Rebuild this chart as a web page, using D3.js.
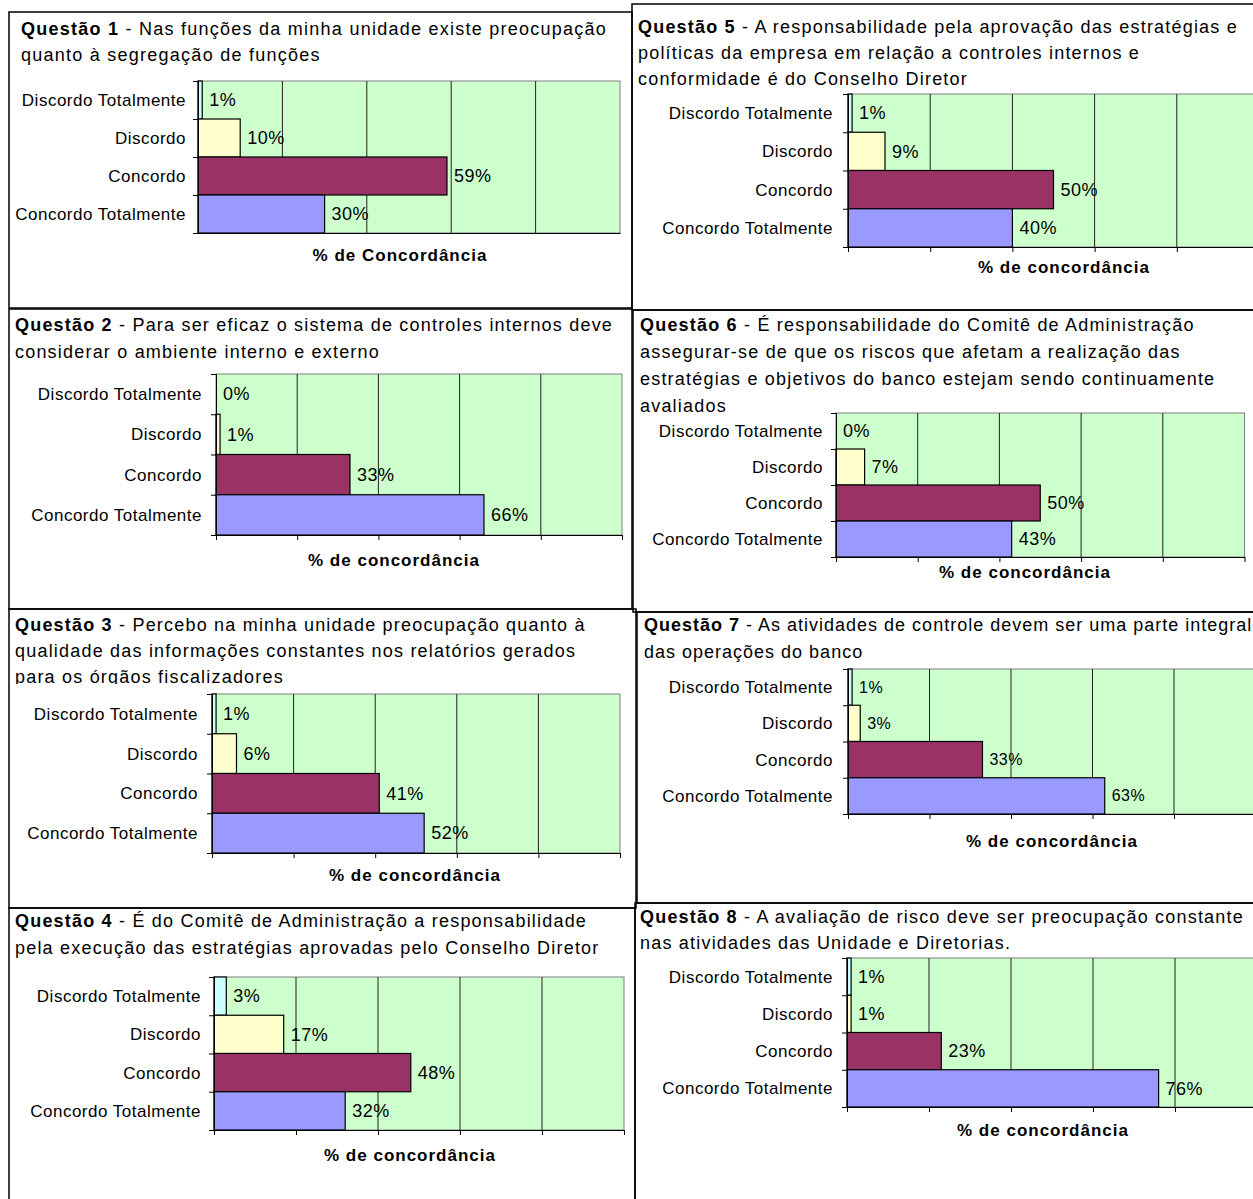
<!DOCTYPE html>
<html>
<head>
<meta charset="utf-8">
<script src="https://cdn.jsdelivr.net/npm/d3@7"></script>
<style>
body{margin:0;background:#fff;}
svg{display:block;font-family:Arial,'Liberation Sans',sans-serif;}
.ttl{font-size:18px;}
.cat{font-size:17px;letter-spacing:0.5px;}
.val{letter-spacing:0.5px;}
.axt{font-size:17px;font-weight:bold;letter-spacing:1px;}
</style>
</head>
<body>
<svg id="chart" width="1253" height="1199"></svg>
<script>
// categorias e valores (%)
var categories = ['Discordo Totalmente', 'Discordo', 'Concordo', 'Concordo Totalmente'];
var xTicks = [0, 20, 40, 60, 80, 100];
var colors = ['#CCFFFF', '#FFFFCC', '#993366', '#9999FF'];

var q1Values = [1, 10, 59, 30];
var q2Values = [0, 1, 33, 66];
var q3Values = [1, 6, 41, 52];
var q4Values = [3, 17, 48, 32];
var q5Values = [1, 9, 50, 40];
var q6Values = [0, 7, 50, 43];
var q7Values = [1, 3, 33, 63];
var q8Values = [1, 1, 23, 76];

var questionLabels = ['Questão 1', 'Questão 2', 'Questão 3', 'Questão 4', 'Questão 5', 'Questão 6', 'Questão 7', 'Questão 8'];
var questionTexts = [
	['Nas funções da minha unidade existe preocupação', 'quanto à segregação de funções'],
	['Para ser eficaz o sistema de controles internos deve', 'considerar o ambiente interno e externo'],
	['Percebo na minha unidade preocupação quanto à', 'qualidade das informações constantes nos relatórios gerados', 'para os órgãos fiscalizadores'],
	['É do Comitê de Administração a responsabilidade', 'pela execução das estratégias aprovadas pelo Conselho Diretor'],
	['A responsabilidade pela aprovação das estratégias e', 'políticas da empresa em relação a controles internos e', 'conformidade é do Conselho Diretor'],
	['É responsabilidade do Comitê de Administração', 'assegurar-se de que os riscos que afetam a realização das', 'estratégias e objetivos do banco estejam sendo continuamente', 'avaliados'],
	['As atividades de controle devem ser uma parte integral', 'das operações do banco'],
	['A avaliação de risco deve ser preocupação constante', 'nas atividades das Unidade e Diretorias.']
];
var axisTitles = ['% de Concordância', '% de concordância', '% de concordância', '% de concordância',
	'% de concordância', '% de concordância', '% de concordância', '% de concordância'];

var allValues = [q1Values, q2Values, q3Values, q4Values, q5Values, q6Values, q7Values, q8Values];

// posicao de cada quadro na pagina
var layout = [
	{cell:[9,12,623,296],  tx:21,  ty:35,  lh:26, ls:1.25, plot:[198,81,422,152], lx:186, ax:400,  ay:261,  vs:18, tk:0},
	{cell:[9,309,623,300], tx:15,  ty:331, lh:27, ls:1.2, plot:[216,374,406,161], lx:202, ax:394,  ay:566,  vs:18, tk:5},
	{cell:[9,609,627,299], tx:15,  ty:631, lh:26, ls:1.2, plot:[212,694,408,159], lx:198, ax:415,  ay:881,  vs:18, tk:5, clip:684},
	{cell:[9,908,626,296], tx:15,  ty:927, lh:27, ls:1.2, plot:[214,977,410,153], lx:201, ax:410,  ay:1161, vs:18, tk:5},
	{cell:[632,4,630,306], tx:638, ty:33,  lh:26, ls:1.2, plot:[848,94,411,153], lx:833, ax:1064, ay:273,  vs:18, tk:5},
	{cell:[633,310,630,302], tx:640, ty:331, lh:27, ls:1.2, plot:[836,413,408.5,144], lx:823, ax:1025, ay:578, vs:18, tk:5},
	{cell:[637,612,630,291], tx:644, ty:631, lh:27, ls:1.0, plot:[848,669,407.5,145], lx:833, ax:1052, ay:847, vs:16, tk:5},
	{cell:[635,903,630,300], tx:640, ty:923, lh:26, ls:1.2, plot:[847,958,410,149], lx:833, ax:1043, ay:1136, vs:18, tk:5}
];

var svg = d3.select('#chart');

layout.forEach(function(L, i){
	var g = svg.append('g');
	var rows = allValues[i].map(function(v, j){ return {cat: categories[j], v: v, color: colors[j]}; });
	var px = L.plot[0], py = L.plot[1], pw = L.plot[2], ph = L.plot[3];

	g.append('rect')
		.attr('x', L.cell[0]).attr('y', L.cell[1])
		.attr('width', L.cell[2]).attr('height', L.cell[3])
		.attr('fill', 'none').attr('stroke', '#000').attr('stroke-width', 1.5);

	//titulo
	var tg = g.append('g');
	if(L.clip){
		svg.append('clipPath').attr('id', 'clip' + i)
			.append('rect').attr('x', L.cell[0]).attr('y', L.cell[1]).attr('width', L.cell[2]).attr('height', L.clip - L.cell[1]);
		tg.attr('clip-path', 'url(#clip' + i + ')');
	}
	var t = tg.append('text').attr('class', 'ttl').attr('x', L.tx).attr('y', L.ty)
		.style('letter-spacing', L.ls + 'px');
	t.append('tspan').attr('font-weight', 'bold').text(questionLabels[i]);
	t.append('tspan').text(' - ' + questionTexts[i][0]);
	for(var k=1; k<questionTexts[i].length; k++){
		t.append('tspan').attr('x', L.tx).attr('dy', L.lh).text(questionTexts[i][k]);
	}

	var x = d3.scaleLinear().domain([0, 100]).range([px, px + pw]);
	var y = d3.scaleBand().domain(categories).range([py, py + ph]).padding(0);
	var yEdge = d3.scaleLinear().domain([0, categories.length]).range([py, py + ph]);

	g.append('rect')
		.attr('x', px).attr('y', py).attr('width', pw).attr('height', ph)
		.attr('fill', '#CCFFCC').attr('stroke', '#808080').attr('stroke-width', 1);

	g.selectAll('line.grid').data(xTicks.slice(1, -1)).enter().append('line')
		.attr('class', 'grid')
		.attr('x1', function(d){ return x(d); }).attr('x2', function(d){ return x(d); })
		.attr('y1', py).attr('y2', py + ph)
		.attr('stroke', '#222').attr('stroke-width', 1);

	g.selectAll('rect.bar').data(rows.filter(function(d){ return d.v > 0; })).enter().append('rect')
		.attr('class', 'bar')
		.attr('x', x(0))
		.attr('y', function(d){ return y(d.cat); })
		.attr('width', function(d){ return x(d.v) - x(0); })
		.attr('height', y.bandwidth())
		.attr('fill', function(d){ return d.color; })
		.attr('stroke', '#000').attr('stroke-width', 1.2);

	// eixos
	g.append('g').attr('transform', 'translate(' + px + ',0)')
		.call(d3.axisLeft(yEdge).tickValues(d3.range(categories.length + 1)).tickSize(5).tickFormat(''))
		.call(function(a){ a.selectAll('path,line').attr('stroke', '#000'); });
	g.append('g').attr('transform', 'translate(0,' + (py + ph) + ')')
		.call(d3.axisBottom(x).tickValues(xTicks).tickSize(L.tk).tickSizeOuter(0).tickFormat(''))
		.call(function(a){ a.selectAll('path,line').attr('stroke', '#000'); });

	g.selectAll('text.cat').data(categories).enter().append('text')
		.attr('class', 'cat')
		.attr('x', L.lx)
		.attr('y', function(d){ return y(d) + y.bandwidth() / 2; })
		.attr('dy', '0.35em')
		.attr('text-anchor', 'end')
		.text(function(d){ return d; });

	g.selectAll('text.val').data(rows).enter().append('text')
		.attr('class', 'val')
		.attr('x', function(d){ return x(d.v) + 7; })
		.attr('y', function(d){ return y(d.cat) + y.bandwidth() / 2; })
		.attr('dy', '0.35em')
		.attr('font-size', L.vs + 'px')
		.text(function(d){ return d.v + '%'; });

	g.append('text').attr('class', 'axt')
		.attr('x', L.ax).attr('y', L.ay)
		.attr('text-anchor', 'middle')
		.text(axisTitles[i]);
});
</script>
</body>
</html>
